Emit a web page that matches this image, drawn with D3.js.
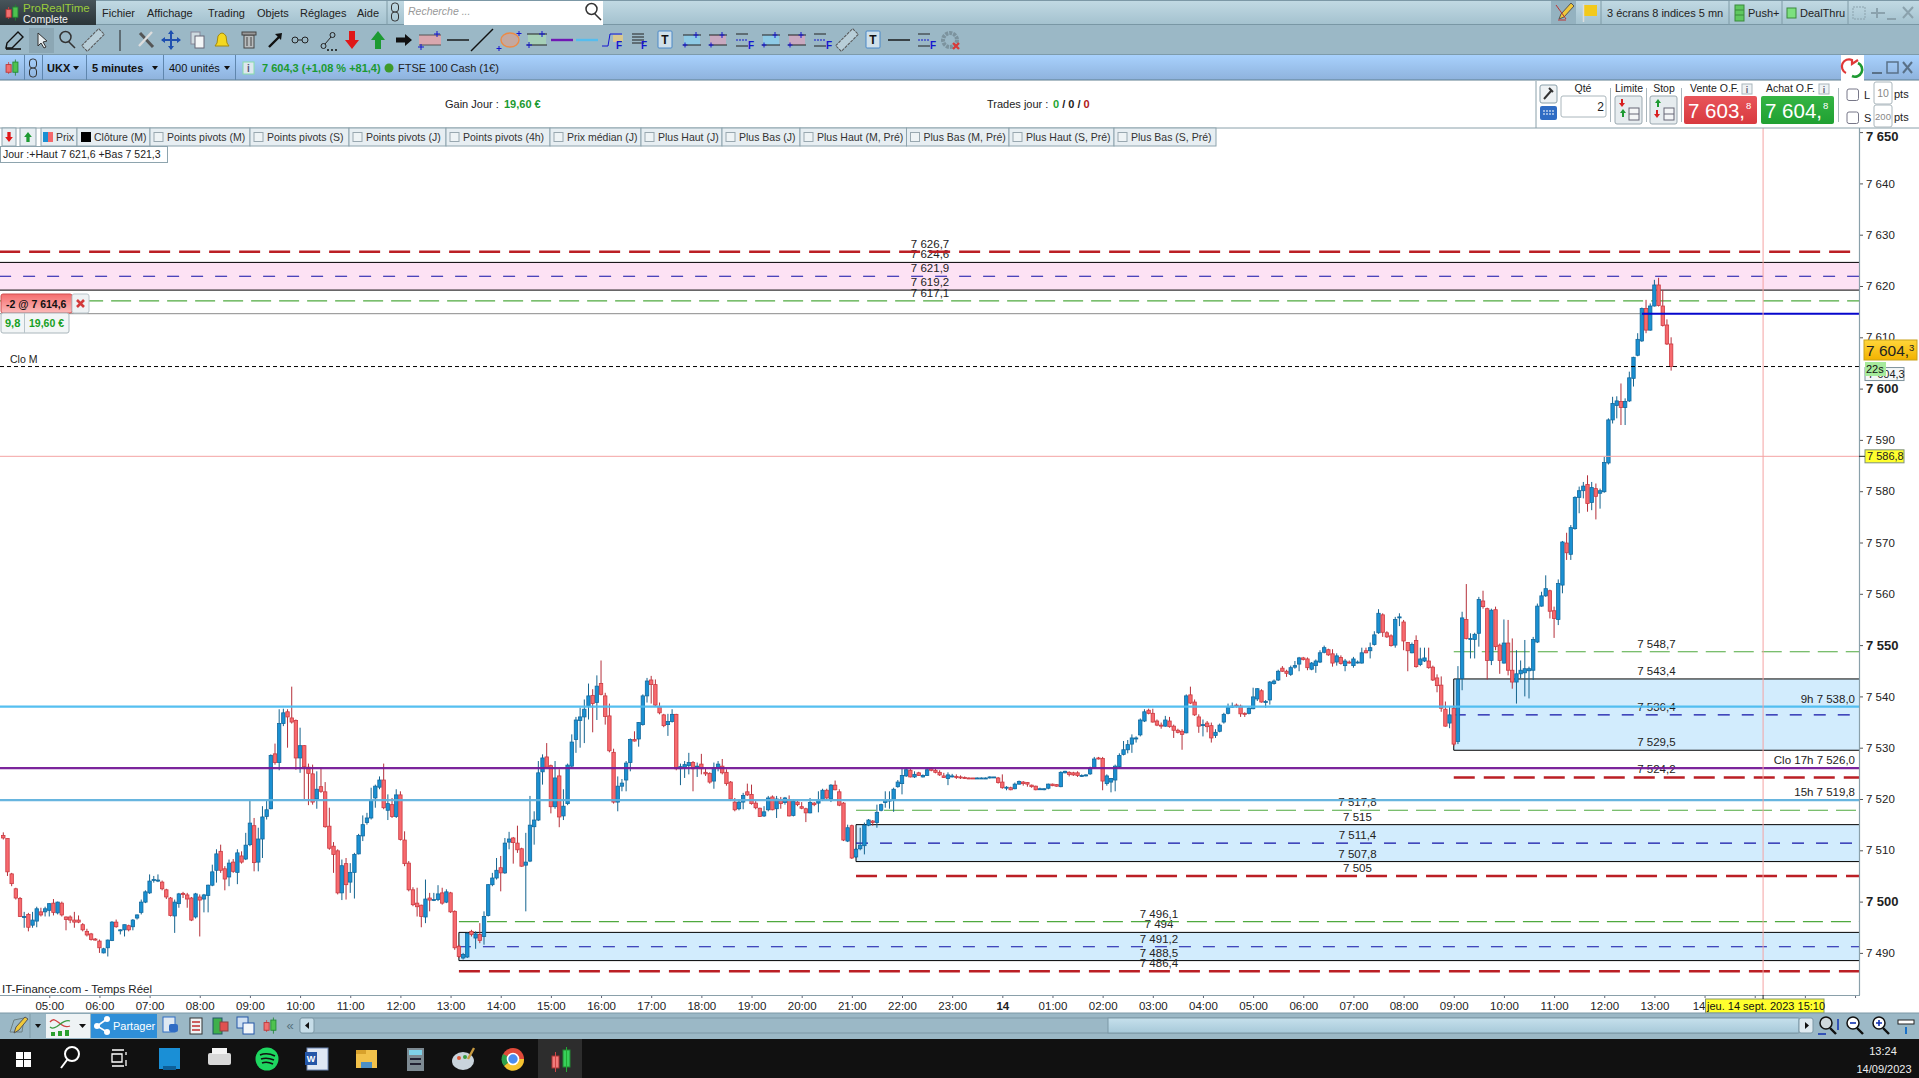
<!DOCTYPE html>
<html>
<head>
<meta charset="utf-8">
<title>UKX 5 minutes</title>
<script src="https://cdn.jsdelivr.net/npm/d3@7"></script>
<style>
  html, body { margin: 0; padding: 0; background: #fff; overflow: hidden; }
  svg { display: block; font-family: "Liberation Sans", Arial, sans-serif; }
</style>
</head>
<body>
<div id="chart"></div>
<script>
// FTSE 100 cash, 400 bars of 5 minutes. Candle values are points above 7 500.
const PRICE_BASE = 7500;

// R = down bar, B = up bar
const barSides =
  'RRRRRBRBBRBB' + 'RBRRRRRRRRRR' + 'BBBRBBRBBBBB' + 'BBRRRBBRRRBR' + 'BBBBRRBRBRBB' +
  'RBBBBRBBRRRB' + 'RRRBRRRRRBRB' + 'BBBBBBBRBRBR' + 'RRRRRBRBBRBR' + 'RRBBRBRBBBBR' +
  'BBRRRBBBBBRR' + 'BRBBBBBBBRBR' + 'RRRBBBBRBBBR' + 'RRRBBRBBBRBR' + 'RRBBRRRRBBRR' +
  'RRBBRBRBRBRR' + 'RBRBBRBRRRBR' + 'BBBBRBBBBBBB' + 'BRBRBBRRRRBB' + 'RRRRRBBBBBRR' +
  'BRBBRRRRBBBR' + 'RBBRRRBBBBRR' + 'BBBBBBBBBBRR' + 'RRBRRRRBRRRB' + 'RRBBBBBRRRBB' +
  'BRBBBBRRBBBR' + 'RBBBBRRBRBRB' + 'BBRBBBRRRBBR' + 'RBRBBRRRRRBR' + 'BBRBBBRRBRRB' +
  'RRBBBBBBBBRR' + 'BBRBBBBRBRBB' + 'BBBRBBBBBRBB' + 'RRRR';

const bodyTops = [
  12.9,12.3,5.4,2.5,.6,-2.9,-2.5,-3.6,-1.4,-2.0,-1.4,-.4,
  -.3,-.1,-.3,-3.0,-3.0,-3.6,-3.6,-4.5,-5.8,-6.3,-7.3,-7.7,
  -9.2,-7.5,-4.0,-4.0,-5.5,-4.5,-4.7,-3.6,-2.6,-.1,1.9,4.0,
  4.3,4.2,3.8,2.3,.7,-.1,1.5,1.6,1.3,.7,1.5,.9,
  1.3,3.2,5.8,9.3,9.8,6.4,7.5,7.7,9.5,8.9,11.0,15.3,
  14.8,12.2,16.5,17.9,28.5,28.8,34.7,36.8,37.0,35.8,35.3,30.4,
  30.4,26.2,24.9,21.9,22.4,21.4,14.7,10.8,9.9,7.0,7.4,5.7,
  9.2,12.9,15.0,16.3,19.7,22.5,23.7,23.7,19.1,18.9,20.8,20.8,
  12.0,7.5,2.3,-.3,-.7,.5,.7,.4,1.5,1.7,1.9,1.7,
  -1.9,-8.7,-10.3,-6.2,-5.8,-6.3,-6.4,-2.9,3.3,4.6,6.1,6.6,
  11.4,12.2,12.4,11.4,10.3,7.7,14.9,15.9,25.1,28.0,28.2,26.5,
  24.1,24.5,18.6,26.6,31.1,35.4,36.0,37.5,40.1,40.2,42.0,42.5,
  40.1,36.2,29.1,22.5,23.1,27.0,31.6,31.6,34.9,40.1,43.0,43.2,
  42.3,38.0,36.4,35.1,36.5,36.5,26.3,26.7,27.1,27.1,26.4,26.8,
  25.2,25.0,26.1,26.8,26.4,25.2,23.3,19.4,19.4,20.7,21.4,20.9,
  19.2,18.2,17.5,20.2,20.4,20.0,19.9,20.2,19.9,19.6,19.4,18.5,
  18.1,19.3,19.2,19.8,21.7,21.7,22.7,22.7,21.4,19.2,14.4,14.8,
  10.2,11.0,14.9,15.9,15.7,17.4,18.9,19.7,19.8,21.9,23.3,24.6,
  25.7,25.6,24.8,25.1,24.6,25.7,25.9,25.6,25.2,24.5,24.7,24.5,
  24.4,24.3,24.2,24.1,24.1,24.1,24.1,24.1,24.3,24.3,24.1,23.3,
  22.3,22.2,22.9,23.4,23.3,23.2,22.7,22.5,22.0,22.0,22.9,22.9,
  22.8,25.2,25.4,25.2,25.1,25.1,24.6,24.7,26.0,27.8,28.0,27.9,
  24.5,24.0,26.4,28.5,29.6,30.6,31.9,31.9,35.4,37.0,37.3,36.7,
  35.2,34.4,35.4,35.2,34.2,33.4,33.2,40.1,40.3,38.9,36.0,34.5,
  34.8,34.3,33.0,34.4,36.5,37.8,38.1,38.3,38.1,36.7,37.7,39.9,
  41.5,41.1,39.0,42.8,43.0,44.9,45.5,44.9,45.6,46.0,47.5,47.5,
  47.3,46.5,46.9,48.5,49.5,49.1,48.3,47.9,47.6,46.9,46.7,47.3,
  46.7,48.5,48.9,49.5,52.0,56.2,55.9,52.4,51.8,55.0,55.5,54.5,
  50.5,50.1,50.9,47.3,47.5,46.9,45.7,43.6,42.2,37.5,36.4,37.7,
  43.3,55.3,55.0,51.3,52.1,58.9,58.6,57.1,56.8,56.9,50.0,50.4,
  50.4,45.1,44.4,45.1,45.4,45.4,51.1,57.6,59.6,61.0,60.6,56.7,
  62.0,70.1,69.9,72.9,78.8,80.1,81.0,81.3,80.7,80.5,80.1,85.6,
  93.9,97.1,97.6,97.5,97.5,102.1,106.1,109.6,115.6,115.6,116.1,120.2,
  120.2,116.1,112.4,108.7
];

const bodyBottoms = [
  12.4,5.8,3.5,.7,-2.9,-3.0,-5.0,-4.6,-3.8,-2.6,-2.0,-1.7,
  -2.1,-2.2,-2.6,-3.5,-3.6,-4.0,-4.0,-5.5,-6.5,-7.4,-7.5,-9.0,
  -10.0,-9.0,-7.6,-4.9,-5.7,-5.5,-5.5,-4.9,-3.2,-2.1,-.1,1.7,
  4.2,4.0,2.5,.9,-2.7,-2.8,-.4,1.4,.5,-3.6,-3.0,.3,
  .5,1.2,3.2,6.1,6.1,4.4,4.8,5.9,5.7,7.7,8.3,11.1,
  7.6,7.7,12.2,16.6,18.1,27.1,27.1,34.7,36.0,35.0,28.0,28.0,
  26.3,25.0,19.4,20.0,21.5,14.6,10.4,9.2,1.7,1.7,3.3,3.8,
  5.7,9.3,12.8,15.4,16.3,20.2,22.3,18.3,17.8,16.6,16.6,12.1,
  7.4,2.3,-.6,-1.0,-2.9,-3.0,.3,.3,.4,-.3,-.1,-2.0,
  -9.0,-10.7,-11.0,-10.8,-6.4,-7.1,-7.6,-6.8,-2.7,3.3,4.6,5.6,
  5.6,11.6,11.5,10.1,6.9,7.1,7.9,14.6,15.9,25.3,26.2,18.5,
  18.5,16.5,16.7,19.1,26.4,31.6,35.3,36.0,38.2,38.6,38.8,40.4,
  36.1,29.4,19.4,19.4,22.5,23.7,27.1,31.3,31.7,34.5,40.1,42.3,
  38.3,36.8,34.3,34.5,35.1,25.9,25.9,26.1,26.5,25.9,26.2,25.9,
  24.9,23.3,23.5,26.1,25.1,23.0,20.0,17.9,18.1,19.4,20.8,19.1,
  18.3,16.6,16.7,17.9,17.9,18.1,19.1,19.3,16.7,16.8,18.9,18.2,
  17.3,17.3,18.9,19.2,19.9,20.2,20.0,21.8,18.8,12.0,11.8,8.5,
  8.7,10.3,10.9,14.9,15.4,15.4,17.8,19.3,19.6,19.8,22.4,23.0,
  24.5,24.3,24.3,24.6,24.3,24.6,25.6,25.2,24.7,24.2,24.0,24.4,
  24.2,24.1,24.0,24.0,24.0,24.0,24.0,23.9,24.1,24.2,23.2,22.2,
  22.2,21.8,22.0,22.9,23.0,22.9,22.4,21.8,21.9,21.9,22.1,22.6,
  22.5,22.4,25.1,24.8,24.7,24.6,24.5,24.5,24.9,26.1,27.8,23.5,
  23.0,23.3,23.7,26.3,28.7,29.6,30.7,31.7,32.5,35.2,36.7,35.0,
  34.4,34.2,34.2,34.1,33.4,33.0,32.6,32.9,38.7,36.4,34.2,34.3,
  34.1,31.9,32.4,33.2,35.0,36.7,38.0,38.1,36.6,36.5,36.7,37.6,
  39.5,38.9,38.8,39.3,42.5,43.2,44.9,44.5,44.3,45.7,46.3,47.2,
  45.6,45.3,46.0,46.7,48.6,48.1,46.5,46.7,46.4,46.0,46.5,46.0,
  46.6,46.5,48.5,48.9,50.1,52.4,52.5,51.6,49.9,50.0,55.4,50.8,
  48.9,48.5,45.8,46.2,46.9,45.6,43.2,42.1,37.7,34.2,34.8,30.7,
  31.2,43.5,51.3,51.1,51.1,52.3,57.5,47.0,47.0,49.7,47.0,46.5,
  45.1,42.8,42.8,44.4,44.6,45.0,45.1,50.6,57.6,59.6,56.6,55.2,
  55.0,61.7,68.0,67.7,72.7,78.8,80.1,77.6,77.8,79.0,79.6,79.9,
  85.5,93.9,96.7,96.3,96.3,97.6,102.0,106.5,109.3,111.4,111.4,116.1,
  116.2,112.3,108.7,104.3
];

const highs = [
  13.5,12.3,5.6,2.7,.9,-2.0,-2.2,-2.0,-1.0,-1.2,-1.0,-.3,
  .5,0,0,-2.9,-2.7,-2.0,-2.7,-4.2,-5.3,-6.1,-7.1,-7.4,
  -9.0,-7.4,-3.8,-3.5,-5.4,-4.5,-4.5,-3.4,-2.5,.4,2.2,5.3,
  5.0,5.3,4.1,2.5,.9,.4,1.7,1.9,1.7,.9,1.7,1.4,
  1.5,3.3,7.2,10.2,11.1,6.9,8.2,8.3,10.2,9.8,13.4,19.7,
  16.3,14.4,18.6,19.6,28.7,30.8,37.5,37.6,37.5,41.9,35.5,33.9,
  30.5,26.9,26.7,25.4,26.1,23.3,18.3,11.6,10.2,8.2,8.5,7.5,
  9.5,13.2,16.8,17.3,22.2,22.8,24.4,26.9,20.9,20.2,21.9,21.5,
  13.7,7.9,2.8,2.7,-.6,4.3,1.7,1.7,3.2,2.7,2.4,1.9,
  -1.7,-8.4,-10.0,-6.0,-5.5,-5.8,-4.2,-1.9,3.4,5.6,8.5,8.9,
  12.4,13.6,12.6,14.8,10.5,13.4,20.6,17.6,27.4,28.7,30.9,26.7,
  27.4,25.8,21.9,26.9,32.6,36.0,37.8,39.4,42.5,41.4,44.1,47.0,
  40.7,38.6,29.8,24.4,23.9,27.4,31.8,33.2,35.0,40.4,43.6,44.0,
  43.3,38.8,36.6,36.6,37.5,36.6,26.9,27.4,29.0,27.4,27.1,28.8,
  26.1,25.2,27.1,27.4,27.8,25.8,23.5,20.2,19.9,21.2,23.0,22.8,
  19.6,18.3,18.6,20.6,20.7,20.6,20.4,20.4,20.7,19.9,19.6,19.4,
  18.3,20.2,19.4,21.5,22.0,22.0,22.9,23.6,21.9,19.4,15.0,15.0,
  10.5,14.4,15.4,16.1,15.9,18.9,19.1,21.5,21.5,22.2,23.7,26.0,
  26.1,26.0,25.4,25.3,24.8,26.0,26.2,25.9,25.6,25.1,25.2,24.9,
  24.8,24.6,24.4,24.2,24.1,24.2,24.2,24.2,24.4,24.3,24.3,24.8,
  22.5,22.4,23.2,23.6,23.5,23.3,22.8,22.6,22.2,22.1,23.0,23.0,
  22.9,25.4,25.5,25.4,25.3,25.4,24.8,24.8,26.3,28.2,28.2,28.2,
  24.8,24.1,26.7,28.9,31.3,31.5,32.6,32.2,35.7,37.5,37.6,37.6,
  35.5,34.9,36.2,36.0,34.5,33.7,33.6,40.4,41.9,39.4,36.5,35.5,
  35.2,34.9,33.6,34.7,36.8,38.6,38.8,38.6,38.4,36.9,37.9,41.7,
  41.6,41.4,39.3,43.0,43.3,45.2,45.9,45.2,46.0,46.9,47.7,47.7,
  47.6,46.7,47.2,49.0,49.9,49.3,49.2,48.4,48.0,47.3,47.0,47.7,
  47.0,49.5,49.5,50.5,52.7,57.0,56.2,52.7,52.1,55.5,56.2,54.9,
  50.6,50.5,51.9,49.5,49.5,49.5,46.0,44.3,43.9,39.0,38.0,38.3,
  45.9,56.5,61.9,52.3,52.4,59.4,60.6,57.3,57.1,57.5,50.3,55.0,
  54.9,51.3,49.0,47.0,51.0,45.8,51.6,58.1,60.4,63.6,60.8,57.5,
  62.8,70.3,71.9,73.4,79.0,80.9,81.8,83.1,81.8,81.5,80.5,86.7,
  94.2,98.4,98.5,101.0,98.1,103.3,106.2,110.8,115.8,117.3,116.6,121.2,
  121.6,119.2,113.5,110.0
];

const lows = [
  12.1,5.0,3.0,.4,-3.0,-5.1,-5.8,-5.1,-5.0,-2.9,-2.9,-2.9,
  -2.7,-2.5,-2.9,-5.6,-4.2,-5.1,-4.2,-5.8,-6.8,-7.6,-7.6,-10.0,
  -10.1,-10.7,-7.7,-5.1,-6.4,-6.8,-5.8,-5.6,-3.5,-2.5,-.3,1.5,
  3.7,3.8,2.2,.5,-2.9,-6.1,-1.2,.7,-1.2,-3.8,-3.3,-6.8,
  -2.1,-2.1,3.0,3.7,5.6,2.2,3.0,5.6,3.4,7.4,8.1,10.8,
  5.9,5.9,8.5,16.0,18.0,26.7,25.6,34.2,30.0,34.7,25.7,25.1,
  20.0,18.8,18.9,18.1,21.2,14.4,10.1,5.6,1.4,.3,.4,1.7,
  .6,9.2,11.8,15.0,16.0,18.3,21.9,18.0,15.9,16.3,16.3,11.9,
  6.9,2.0,-.9,-2.9,-5.0,-4.2,-1.9,.1,.1,-.6,-.3,-2.2,
  -9.4,-11.0,-11.3,-11.0,-6.8,-9.2,-8.1,-8.4,-2.9,3.0,4.3,2.0,
  5.4,10.2,7.4,9.5,6.8,-1.9,7.7,11.1,15.7,22.8,26.1,17.2,
  18.1,14.5,15.9,18.8,26.2,29.0,30.0,30.9,35.5,33.0,35.4,40.2,
  34.5,29.1,19.1,17.6,21.5,21.5,25.4,31.2,30.2,34.3,38.8,38.6,
  38.1,36.5,34.0,32.3,34.9,25.6,22.7,24.1,24.8,21.5,24.3,24.8,
  24.5,23.0,22.0,25.4,24.8,22.6,19.6,17.6,17.8,18.0,20.6,18.9,
  18.0,16.5,16.5,17.6,17.8,16.3,18.1,18.9,16.6,16.6,18.6,18.0,
  15.5,17.2,18.6,17.4,19.6,19.9,19.4,21.7,18.6,11.8,11.6,8.3,
  8.5,10.0,9.2,14.7,14.8,14.4,17.6,18.3,18.1,17.5,22.2,20.9,
  24.3,24.2,24.1,24.5,24.2,24.5,25.4,25.0,24.5,24.1,22.7,24.2,
  23.9,23.9,23.9,23.9,23.9,23.9,23.9,23.9,24.0,24.1,23.0,22.0,
  21.7,21.7,21.9,22.8,22.6,22.4,22.2,21.7,21.8,21.7,21.9,22.5,
  22.4,22.3,25.0,24.4,24.5,24.3,24.3,24.4,24.7,25.9,27.7,21.7,
  22.6,21.3,21.5,26.1,28.5,28.9,29.0,31.0,32.2,35.0,36.5,34.9,
  34.2,33.7,34.1,33.9,31.9,32.8,29.6,32.8,38.5,36.2,32.9,32.2,
  33.0,31.0,31.9,33.0,34.7,36.5,37.8,37.8,36.0,36.0,36.5,37.5,
  39.1,38.8,37.8,38.4,42.3,43.0,44.8,43.8,44.0,45.4,44.9,47.0,
  45.1,45.1,44.6,46.5,48.4,47.9,45.8,46.0,46.2,44.9,46.4,45.6,
  46.4,46.4,48.4,47.4,49.9,52.2,51.6,51.4,49.7,49.5,53.7,49.0,
  44.9,48.4,45.6,45.9,46.7,45.4,43.0,40.8,37.0,34.1,33.8,30.3,
  30.7,41.2,51.1,47.4,47.4,49.7,57.1,43.3,46.1,49.0,44.4,46.4,
  44.1,41.5,38.6,43.5,40.0,39.6,43.2,50.4,57.5,59.4,55.2,51.4,
  53.9,60.1,66.6,66.6,72.5,75.7,78.6,76.0,76.3,74.5,76.6,79.7,
  85.2,93.2,94.2,92.9,92.9,97.4,100.4,106.3,109.1,110.8,111.3,116.0,
  116.0,112.1,108.5,103.5
];

// Drawn zones: first one is the pink one, the others blue
const zoneStartBars = [-1, 347, 204, 109];
const zoneTops = [7624.6, 7543.4, 7515, 7494];
const zoneBottoms = [7619.2, 7529.5, 7507.8, 7488.5];
const zoneMiddles = [7621.9, 7536.4, 7511.4, 7491.2];
const zoneGreens = [7617.1, 7548.7, 7517.8, 7496.1];
const zoneReds = [7626.7, 7524.2, 7505, 7486.4];

// Named horizontal levels on the right
const levelPrices = [7538.0, 7526.0, 7519.8];
const levelNames = ['9h', 'Clo 17h', '15h'];

const lastPrice = 7604.3;
const positionPrice = 7614.6;
const positionStartBar = 392;
const crossPrice = 7586.8;
const crossBar = 421;

const priceTicks = d3.range(7490, 7651, 10);
const hourBars = d3.range(11, 408, 12).concat([419, 431, 443]);
const hourLabels = ['05:00','06:00','07:00','08:00','09:00','10:00','11:00','12:00','13:00','14:00',
  '15:00','16:00','17:00','18:00','19:00','20:00','21:00','22:00','23:00','14','01:00','02:00','03:00',
  '04:00','05:00','06:00','07:00','08:00','09:00','10:00','11:00','12:00','13:00','14','','',''];

const tabLabels = ['Prix','Clôture (M)','Points pivots (M)','Points pivots (S)','Points pivots (J)','Points pivots (4h)',
  'Prix médian (J)','Plus Haut (J)','Plus Bas (J)','Plus Haut (M, Pré)','Plus Bas (M, Pré)','Plus Haut (S, Pré)','Plus Bas (S, Pré)'];
const tabEdges = [41, 77, 150, 250, 349, 446, 550, 641, 722, 800, 906.5, 1009, 1114, 1216];

const W = 1919, H = 1078;
const axisX = 1859, axisY = 995, chartTop = 128;

const fr = d3.formatLocale({ decimal: ',', thousands: ' ', grouping: [3], currency: ['', ' €'] });
const fmtInt = fr.format(',d');
const fmtTrim = fr.format(',.1~f');
const fmtOne = fr.format(',.1f');

const barX = d3.scaleLinear().domain([0, 399]).range([3.3, 3.3 + 4.18 * 399]);
const priceY = d3.scaleLinear().domain([7490, 7650]).range([952.9, 132.1]);

const svg = d3.select('#chart').append('svg').attr('width', W).attr('height', H);
const defs = svg.append('defs');

function gradient(id, top, bottom) {
  const g = defs.append('linearGradient').attr('id', id).attr('x1', 0).attr('x2', 0).attr('y1', 0).attr('y2', 1);
  g.append('stop').attr('offset', 0).attr('stop-color', top);
  g.append('stop').attr('offset', 1).attr('stop-color', bottom);
}
gradient('menuGrad', '#c2dae4', '#a3c1ce');
gradient('blueGrad', '#a8d1fd', '#8eb2dc');
gradient('logoGrad', '#47545a', '#2a3438');
gradient('redBox', '#e8555a', '#d8393f');
gradient('greenBox', '#35b544', '#1fa032');
gradient('posGrad', '#f56d6d', '#fbb9b9');
gradient('tagGrad', '#ffd63a', '#f2b200');
gradient('thumbGrad', '#c6e0ec', '#a7c9d9');

defs.append('clipPath').attr('id', 'plotClip').append('rect')
  .attr('x', 0).attr('y', chartTop).attr('width', axisX).attr('height', axisY - chartTop);

function rect(p, x, y, w, h, fill, stroke, rx) {
  return p.append('rect').attr('x', x).attr('y', y).attr('width', w).attr('height', h)
    .attr('fill', fill || 'none').attr('stroke', stroke || 'none').attr('rx', rx || 0);
}
function line(p, x1, y1, x2, y2, stroke, width, dash) {
  return p.append('line').attr('x1', x1).attr('y1', y1).attr('x2', x2).attr('y2', y2)
    .attr('stroke', stroke).attr('stroke-width', width || 1).attr('stroke-dasharray', dash || null);
}
function text(p, x, y, str, size, fill, opts) {
  opts = opts || {};
  return p.append('text').attr('x', x).attr('y', y).text(str)
    .attr('font-size', size).attr('fill', fill || '#222')
    .attr('font-weight', opts.bold ? 'bold' : null)
    .attr('font-style', opts.italic ? 'italic' : null)
    .attr('text-anchor', opts.anchor || 'start');
}
function path(p, d, fill, stroke, width) {
  return p.append('path').attr('d', d).attr('fill', fill || 'none')
    .attr('stroke', stroke || 'none').attr('stroke-width', width || 1);
}

// ---- plot area ----
const plot = svg.append('g').attr('clip-path', 'url(#plotClip)');

// zone fills and edges
zoneTops.forEach((top, i) => {
  const x0 = barX(zoneStartBars[i]);
  const y0 = priceY(top), y1 = priceY(zoneBottoms[i]);
  rect(plot, x0, y0, axisX - x0, y1 - y0, i === 0 ? '#fde2f4' : '#d2ecfd', null);
  line(plot, x0, y0, axisX, y0, '#000', 1);
  line(plot, x0, y1, axisX, y1, '#000', 1);
  if (i > 0) line(plot, x0, y0, x0, y1, '#000', 1);
});

// price labels of the zones, behind the lines
zoneTops.forEach((top, i) => {
  const mid = (barX(zoneStartBars[i]) + axisX) / 2 + (i === 0 ? 1 : 0);
  [zoneReds[i], top, zoneMiddles[i], zoneBottoms[i], zoneGreens[i]].forEach(v => {
    text(plot, mid, priceY(v) - 4, fmtTrim(v), 11.5, '#222', { anchor: 'middle' });
  });
});

// zone dashed lines
zoneTops.forEach((top, i) => {
  const x0 = barX(zoneStartBars[i]);
  line(plot, x0, priceY(zoneReds[i]), axisX, priceY(zoneReds[i]), '#bb1f25', 2.5, '21 9');
  line(plot, x0, priceY(zoneMiddles[i]), axisX, priceY(zoneMiddles[i]), '#1212a6', 1.2, '12 12');
  line(plot, x0, priceY(zoneGreens[i]), axisX, priceY(zoneGreens[i]), '#4fa93f', 1.1, '20 8');
});

// position line
line(plot, 0, priceY(positionPrice), barX(positionStartBar), priceY(positionPrice), '#8a8a8a', 1);

// candles
const bars = plot.append('g').selectAll('g').data(d3.range(barSides.length)).join('g');
bars.append('line')
  .attr('x1', i => barX(i)).attr('x2', i => barX(i))
  .attr('y1', i => priceY(PRICE_BASE + highs[i])).attr('y2', i => priceY(PRICE_BASE + lows[i]))
  .attr('stroke', i => barSides[i] === 'R' ? '#b5303a' : '#15648f').attr('stroke-width', 1);
bars.append('rect')
  .attr('x', i => barX(i) - 1.7).attr('width', 3.4)
  .attr('y', i => priceY(PRICE_BASE + bodyTops[i]))
  .attr('height', i => Math.max(1, priceY(PRICE_BASE + bodyBottoms[i]) - priceY(PRICE_BASE + bodyTops[i])))
  .attr('fill', i => barSides[i] === 'R' ? '#f76a6e' : '#1a90d2')
  .attr('stroke', i => barSides[i] === 'R' ? '#cc3a42' : '#11699e').attr('stroke-width', .8);

// named levels over the candles
const levelColors = ['#4cbcf0', '#761a97', '#5fb2de'];
levelPrices.forEach((v, i) => {
  line(plot, 0, priceY(v), axisX, priceY(v), levelColors[i], 2.3).attr('opacity', .95);
  text(plot, 1855, priceY(v) - 4, levelNames[i] + ' ' + fmtOne(v), 11.5, '#222', { anchor: 'end' });
});

line(plot, barX(positionStartBar), priceY(positionPrice), axisX, priceY(positionPrice), '#0606cc', 2);
line(plot, 0, priceY(lastPrice), axisX, priceY(lastPrice), '#000', 1, '4 3');
text(plot, 10, priceY(lastPrice) - 4, 'Clo M', 10.5, '#222');
line(plot, 0, priceY(crossPrice), axisX, priceY(crossPrice), '#f4a3a3', 1);
line(plot, barX(crossBar), chartTop, barX(crossBar), axisY, '#f4a3a3', 1);

text(svg, 2, 993, 'IT-Finance.com - Temps Réel', 11.5, '#222');

// ---- axes ----
const yAxis = svg.append('g').attr('transform', `translate(${axisX},0)`)
  .call(d3.axisRight(priceY).tickValues(priceTicks).tickSize(4).tickPadding(3).tickFormat(fmtInt));
yAxis.select('.domain').remove();
yAxis.selectAll('line').attr('stroke', '#555');
yAxis.selectAll('text')
  .attr('font-family', '"Liberation Sans", Arial, sans-serif')
  .attr('fill', '#222')
  .attr('font-size', d => d % 50 === 0 ? 13 : 11.5)
  .attr('font-weight', d => d % 50 === 0 ? 'bold' : null)
  .attr('dy', d => d === 7650 ? '.62em' : '.32em');
line(svg, axisX + .5, chartTop, axisX + .5, axisY, '#8aa0aa', 1.2);

const xAxis = svg.append('g').attr('transform', `translate(0,${axisY})`)
  .call(d3.axisBottom(barX).tickValues(hourBars).tickSize(3).tickPadding(4)
    .tickFormat((d, i) => hourLabels[i]));
xAxis.select('.domain').remove();
xAxis.selectAll('line').attr('stroke', '#667');
xAxis.selectAll('text')
  .attr('font-family', '"Liberation Sans", Arial, sans-serif')
  .attr('fill', '#222')
  .attr('font-size', 11.5)
  .attr('font-weight', (d, i) => hourLabels[i] === '14' && i < 30 ? 'bold' : null)
  // the second day label sits just left of the date tag
  .attr('dx', (d, i) => i === 33 ? -6 : 0);
line(svg, 0, axisY + .5, axisX + 1, axisY + .5, '#8aa0aa', 1.2);

// price tags
const tagX = 1864;
rect(svg, tagX + 1, priceY(lastPrice) + 1, 39, 13, '#f4f7f8', '#7e929c');
text(svg, tagX + 4, priceY(lastPrice) + 11, fmtOne(lastPrice), 11, '#222');
rect(svg, tagX + 1, 362, 21, 14, '#a6ea9c');
text(svg, tagX + 2, 373, '22s', 11, '#111');
rect(svg, tagX, 340, 53, 20, 'url(#tagGrad)', '#c9a21a');
const lastParts = fmtOne(lastPrice).split(',');
const lastTag = text(svg, tagX + 2, 356, lastParts[0] + ',', 15.5, '#222');
lastTag.append('tspan').attr('font-size', 9.5).attr('dy', -5).text(lastParts[1]);
rect(svg, tagX + 1, priceY(crossPrice) - 6.5, 39, 13, '#ffff2e', '#7e927e');
text(svg, tagX + 3, priceY(crossPrice) + 4, fmtOne(crossPrice), 11, '#222');
line(svg, axisX, priceY(crossPrice), tagX + 1, priceY(crossPrice), '#222', 1);

rect(svg, 1705.5, 999, 118.5, 14, '#ffff2e', '#8a9a6a');
text(svg, 1707, 1010, 'jeu. 14 sept. 2023 15:10', 11, '#111');
line(svg, barX(crossBar), axisY, barX(crossBar), 999, '#222', 1);

// open position tag
rect(svg, 1, 294, 71, 19, 'url(#posGrad)', '#d05050', 2);
text(svg, 6, 307.5, '-2 @ ' + fmtOne(positionPrice), 10.5, '#111', { bold: true });
rect(svg, 72, 294, 17, 19, '#eef2f4', '#b8c4ca', 2);
path(svg, 'M77 300 L84 307 M84 300 L77 307', null, '#d23a3a', 2.6);
rect(svg, 1, 313, 68, 20, '#f2f5f6', '#aab6bc', 2);
line(svg, 24.5, 313, 24.5, 333, '#b8c4ca');
text(svg, 5, 327, '9,8', 11, '#17a024', { bold: true });
text(svg, 29, 327, '19,60 €', 10.5, '#17a024', { bold: true });

// ---- window chrome, drawn after the plot ----
function icon(p, x, y, kind) {
  const g = p.append('g').attr('transform', `translate(${x},${y})`);
  switch (kind) {
    case 'pencil':
      path(g, 'M-9 8 L-8 3 L3 -8 L8 -3 L-3 8 Z', null, '#111', 1.4); line(g, -9, 9, 6, 9, '#111', 1.6); break;
    case 'cursor':
      rect(g, -12, -12, 25, 25, '#8ca7b4'); path(g, 'M-3 -7 L-3 6 L0 3 L3 8 L5 7 L2 2 L6 1 Z', '#e8eef0', '#333'); break;
    case 'lens':
      path(g, 'M-7 -3 a5.5 5.5 0 1 0 11 0 a5.5 5.5 0 1 0 -11 0 M2 2 L8 8', null, '#333', 1.5); break;
    case 'ruler':
      g.append('rect').attr('x', -12).attr('y', -4).attr('width', 24).attr('height', 8)
        .attr('fill', '#b8ced8').attr('stroke', '#555').attr('stroke-dasharray', '3 1').attr('transform', 'rotate(-45)'); break;
    case 'tools':
      path(g, 'M-6 -7 L7 7', null, '#555', 3); path(g, 'M6 -8 L-7 6', null, '#ddd', 2.4); break;
    case 'move':
      path(g, 'M-9 0 L9 0 M0 -9 L0 9', null, '#2050b0', 2);
      path(g, 'M-10 0 L-6 -3 L-6 3 Z M10 0 L6 -3 L6 3 Z M0 -10 L-3 -6 L3 -6 Z M0 10 L-3 6 L3 6 Z', '#1d4fb0'); break;
    case 'copy':
      rect(g, -6, -8, 9, 12, '#cfdbe0', '#889'); rect(g, -2, -4, 9, 12, '#f3f6f7', '#667'); break;
    case 'bell':
      path(g, 'M-7 6 L7 6 L5 3 L4 -4 Q0 -10 -4 -4 L-5 3 Z', '#f4d820', '#a48a10'); break;
    case 'trash':
      rect(g, -5, -5, 10, 13, '#b8bcbd', '#444'); rect(g, -7, -8, 14, 3, '#999', '#444');
      path(g, 'M-2 -3 L-2 6 M2 -3 L2 6', null, '#444'); break;
    case 'arrowNE':
      path(g, 'M-6 7 L5 -4', null, '#111', 2.4); path(g, 'M7 -7 L0 -6 L6 0 Z', '#111'); break;
    case 'link':
      path(g, 'M-8 0 a3 3 0 1 0 6 0 a3 3 0 1 0 -6 0 M2 0 a3 3 0 1 0 6 0 a3 3 0 1 0 -6 0 M-2 0 L2 0', null, '#222'); break;
    case 'nodes':
      path(g, 'M-7 6 a2.5 2.5 0 1 0 5 0 a2.5 2.5 0 1 0 -5 0 M2 -5 a2.5 2.5 0 1 0 5 0 a2.5 2.5 0 1 0 -5 0 M-3 4 L3 -3', null, '#222');
      line(g, -1, 10, 9, 10, '#111', 1.5, '2 2'); break;
    case 'down': path(g, 'M-3 -9 L3 -9 L3 0 L7 0 L0 9 L-7 0 L-3 0 Z', '#e01818'); break;
    case 'up': path(g, 'M-3 9 L3 9 L3 0 L7 0 L0 -9 L-7 0 L-3 0 Z', '#1d9a32'); break;
    case 'right': path(g, 'M-8 -2.5 L1 -2.5 L1 -6 L8 0 L1 6 L1 2.5 L-8 2.5 Z', '#111'); break;
    case 'box':
      rect(g, -11, -5, 22, 10, '#d9a7ae'); line(g, -11, -5, 11, -5, '#555'); line(g, -11, 5, 11, 5, '#555');
      path(g, 'M7 -9 L7 -3 M4 -6 L10 -6 M-9 4 L-9 10 M-12 7 L-6 7', null, '#1515d0'); break;
    case 'hline': line(g, -11, 0, 11, 0, '#111', 1.4); break;
    case 'diag': line(g, -11, 11, 11, -11, '#111', 1.4); break;
    case 'ellipse':
      g.append('ellipse').attr('rx', 9).attr('ry', 7).attr('fill', '#c4a9a0').attr('stroke', '#ee8a44').attr('stroke-width', 1.4);
      path(g, 'M9 -9 L9 -4 M6.5 -6.5 L11.5 -6.5 M-11 6 L-11 11 M-13.5 8.5 L-8.5 8.5', null, '#1515d0'); break;
    case 'boxGreen':
      rect(g, -9, -6, 18, 11, '#a6d0b8'); line(g, -10, -6, 10, -6, '#222'); line(g, -10, 5, 10, 5, '#222');
      path(g, 'M5 -9 L5 -3 M2 -6 L8 -6 M-8 2 L-8 8 M-11 5 L-5 5', null, '#1515d0'); break;
    case 'boxBlue':
      rect(g, -8, -5, 16, 10, '#8ecbe6'); line(g, -9, -5, 9, -5, '#222'); line(g, -9, 5, 9, 5, '#222');
      path(g, 'M4 -8 L4 -2 M1.5 -5 L6.5 -5 M-7 2.5 L-7 7.5 M-9.5 5 L-4.5 5', null, '#1515d0'); break;
    case 'boxPink':
      rect(g, -8, -5, 16, 10, '#c8a9c0'); line(g, -9, -5, 9, -5, '#222'); line(g, -9, 5, 9, 5, '#222');
      path(g, 'M4 -8 L4 -2 M1.5 -5 L6.5 -5 M-7 2.5 L-7 7.5 M-9.5 5 L-4.5 5', null, '#1515d0'); break;
    case 'purple': line(g, -11, 0, 11, 0, '#7018b4', 2.4); break;
    case 'cyan': line(g, -11, 0, 11, 0, '#55bdee', 2.4); break;
    case 'fib':
      path(g, 'M-10 6 L-4 6 L-2 -6 L10 -6', null, '#1515d0'); rect(g, 1, -5, 10, 7, '#d8c890');
      text(g, 4, 9, 'F', 10, '#1515d0', { bold: true }); break;
    case 'list':
      path(g, 'M-8 -6 L4 -6 M-8 -3 L4 -3 M-8 0 L4 0 M-8 3 L4 3', null, '#222', 1.1); text(g, 1, 9, 'F', 10, '#1515d0', { bold: true }); break;
    case 'textbox':
      rect(g, -7, -9, 14, 17, '#cfe0ea', '#4a88c8', 1); text(g, 0, 4, 'T', 12, '#111', { bold: true, anchor: 'middle' }); break;
    case 'dashF':
      path(g, 'M-9 -6 L3 -6 M-9 6 L3 6', null, '#222'); line(g, -9, 0, 3, 0, '#1515d0', 1, '2 1');
      text(g, 3, 9, 'F', 10, '#1515d0', { bold: true }); break;
    case 'ring':
      g.append('circle').attr('r', 7).attr('fill', 'none').attr('stroke', '#7c939e').attr('stroke-width', 4).attr('stroke-dasharray', '3 1');
      path(g, 'M3 3 L9 9 M9 3 L3 9', null, '#d83a3a', 2.4); break;
    case 'candles':
      line(g, -4, -7, -4, 7, '#c44'); rect(g, -7, -4, 6, 9, '#f07070', '#b33');
      line(g, 4, -10, 4, 9, '#283'); rect(g, 1, -7, 6, 12, '#4fc24f', '#283'); break;
    case 'chain':
      rect(g, -3.5, -9, 7, 9, null, '#333', 3); rect(g, -3.5, 0, 7, 9, null, '#333', 3); break;
  }
  return g;
}

// menu bar
rect(svg, 0, 0, W, 25, 'url(#menuGrad)');
line(svg, 0, .5, W, .5, '#7c98a6');
line(svg, 0, 25, W, 25, '#4f6c7b', 1);
rect(svg, 0, 0, 96, 25, 'url(#logoGrad)');
icon(svg, 12, 13, 'candles').attr('transform', 'translate(12,13) scale(.85)');
text(svg, 23, 12, 'ProRealTime', 11.5, '#9acb3b', { bold: false });
text(svg, 23, 22.5, 'Complete', 10.5, '#f2f2f2');
[['Fichier', 102], ['Affichage', 147], ['Trading', 208], ['Objets', 257], ['Réglages', 300], ['Aide', 357]]
  .forEach(m => text(svg, m[1], 17, m[0], 11, '#222'));
line(svg, 387, 1, 387, 25, '#7f9aa6');
icon(svg, 395, 12, 'chain');
rect(svg, 404, 1, 199, 24, '#fff');
text(svg, 408, 15, 'Recherche ...', 10.5, '#999', { italic: true });
icon(svg, 593, 12, 'lens');
rect(svg, 1551, 1, 25, 23, '#94b2c0');
path(svg, 'M1559 19 L1561 14 L1571 3 L1574 6 L1564 17 Z', '#f0c83a', '#555');
path(svg, 'M1556 5 L1566 19 M1558 20 L1566 20', null, '#b33');
path(svg, 'M1584 5 L1597 5 L1597 16 L1584 16 Z', '#f2c91c');
line(svg, 1583.5, 4, 1583.5, 22, '#ddd', 1.5);
line(svg, 1601, 1, 1601, 25, '#7f9aa6');
text(svg, 1607, 17, '3 écrans 8 indices 5 mn', 11, '#222');
line(svg, 1729, 1, 1729, 25, '#7f9aa6');
rect(svg, 1735, 5, 9, 16, '#5fc860', '#3b8a3d');
path(svg, 'M1735 10 L1744 10 M1735 15 L1744 15', null, '#3b8a3d');
text(svg, 1748, 17, 'Push+', 11, '#222');
line(svg, 1782, 1, 1782, 25, '#7f9aa6');
rect(svg, 1787, 8, 9, 10, '#7ce07e', '#3b8a3d');
text(svg, 1800, 17, 'DealThru', 11, '#222');
line(svg, 1848, 1, 1848, 25, '#7f9aa6');
rect(svg, 1853, 7, 12, 12, null, '#8ba2ad').attr('stroke-dasharray', '2 1');
path(svg, 'M1871 13 L1885 13 M1877 8 L1877 18', null, '#8ba2ad', 2);
line(svg, 1887, 19, 1896, 19, '#8ba2ad', 2);
path(svg, 'M1903 7 L1913 18 M1913 7 L1903 18', null, '#8ba2ad', 2);

// tool bar
rect(svg, 0, 25, W, 30, '#9bb8c6');
line(svg, 0, 55, W, 55, '#5f7f90', 1);
const toolIcons = [[15, 'pencil'], [41, 'cursor'], [67, 'lens'], [93, 'ruler'], [146, 'tools'], [171, 'move'], [197, 'copy'],
  [222, 'bell'], [249, 'trash'], [275, 'arrowNE'], [300, 'link'], [328, 'nodes'], [352, 'down'], [378, 'up'], [404, 'right'],
  [430, 'box'], [458, 'hline'], [482, 'diag'], [510, 'ellipse'], [537, 'boxGreen'], [562, 'purple'], [587, 'cyan'], [612, 'fib'],
  [640, 'list'], [665, 'textbox'], [692, 'boxBlue'], [718, 'boxPink'], [745, 'dashF'], [771, 'boxBlue'], [797, 'boxPink'],
  [823, 'dashF'], [847, 'ruler'], [873, 'textbox'], [899, 'hline'], [927, 'dashF'], [950, 'ring']];
toolIcons.forEach(t => icon(svg, t[0], 40, t[1]));
line(svg, 120, 30, 120, 51, '#222');

// instrument bar
rect(svg, 0, 55, W, 25, 'url(#blueGrad)');
line(svg, 0, 80, W, 80, '#5f7f90', 1);
icon(svg, 12, 68, 'candles').attr('transform', 'translate(12,68) scale(.85)');
icon(svg, 33, 68, 'chain');
[24, 42, 86, 163, 235].forEach(x => line(svg, x + .5, 55, x + .5, 80, '#5f86ad'));
text(svg, 47, 72, 'UKX', 11, '#111', { bold: true });
text(svg, 92, 72, '5 minutes', 11, '#111', { bold: true });
text(svg, 169, 72, '400 unités', 11, '#111');
[[76, 68], [155, 68], [227, 68]].forEach(t => path(svg, `M${t[0] - 3} ${t[1] - 2} L${t[0] + 3} ${t[1] - 2} L${t[0]} ${t[1] + 2} Z`, '#111'));
rect(svg, 243, 62, 11, 12, '#dde7ef', '#8da');
text(svg, 248.5, 72, 'i', 10, '#557', { anchor: 'middle', bold: true });
text(svg, 262, 72, '7 604,3 (+1,08 % +81,4)', 11, '#1b9a30', { bold: true });
svg.append('circle').attr('cx', 389).attr('cy', 68).attr('r', 4.5).attr('fill', '#3f9a2a');
text(svg, 398, 72, 'FTSE 100 Cash (1€)', 11, '#222');
rect(svg, 1841, 55, 23, 26, '#fff');
path(svg, 'M1846 73 A7 7 0 0 1 1852 60 L1852 64 L1858 60', null, '#e03838', 2.2);
path(svg, 'M1858 63 A7 7 0 0 1 1852 76', null, '#1d9a32', 2.6);
line(svg, 1872, 73, 1882, 73, '#5a7188', 2);
rect(svg, 1887, 62, 11, 11, null, '#5a7188', 0).attr('stroke-width', 1.5);
path(svg, 'M1903 62 L1912 73 M1912 62 L1903 73', null, '#5a7188', 2);

// account strip
rect(svg, 0, 81, W, 47, '#fff');
line(svg, 0, 128, W, 128, '#8aa0aa', 1);
text(svg, 445, 108, 'Gain Jour :', 11, '#222');
text(svg, 504, 108, '19,60 €', 11, '#1b9a30', { bold: true });
text(svg, 987, 108, 'Trades jour :', 11, '#222');
const tradesText = text(svg, 1053, 108, '0', 11, '#1fa52f', { bold: true });
tradesText.append('tspan').attr('fill', '#222').text(' / ');
tradesText.append('tspan').attr('fill', '#222').text('0');
tradesText.append('tspan').attr('fill', '#222').text(' / ');
tradesText.append('tspan').attr('fill', '#b01818').text('0');

// order ticket
line(svg, 1536, 81, 1536, 128, '#8aa0aa');
rect(svg, 1540, 85, 17, 18, '#eef2f4', '#8aa0aa', 2);
path(svg, 'M1544 99 L1551 91 M1549 88 L1553 92', null, '#333', 2);
rect(svg, 1540, 106, 17, 14, '#2f6cc4', null, 2);
line(svg, 1543, 111, 1554, 111, '#fff', 1.2, '2 1');
line(svg, 1543, 114, 1554, 114, '#fff', 1.2, '2 1');
text(svg, 1583, 92, 'Qté', 10.5, '#222', { anchor: 'middle' });
rect(svg, 1561, 96, 45, 21, '#fff', '#aab6bc', 2);
text(svg, 1604, 111, '2', 12, '#222', { anchor: 'end' });
[1610, 1646, 1681, 1838].forEach(x => line(svg, x + .5, 88, x + .5, 122, '#aab6bc'));
text(svg, 1629, 92, 'Limite', 10.5, '#222', { anchor: 'middle' });
text(svg, 1664, 92, 'Stop', 10.5, '#222', { anchor: 'middle' });
[1615, 1650].forEach((x, i) => {
  rect(svg, x, 96, 27, 28, '#e6ecef', '#9aa8b0', 2);
  path(svg, i ? 'M' + (x + 8) + ' 99 l3 4 l-2 0 l0 4 l-2 0 l0 -4 l-2 0 Z' : 'M' + (x + 6) + ' 99 l2 0 l0 4 l2 0 l-3 4 l-3 -4 l2 0 Z', i ? '#1d9a32' : '#d82020');
  path(svg, i ? 'M' + (x + 6) + ' 110 l2 0 l0 4 l2 0 l-3 4 l-3 -4 l2 0 Z' : 'M' + (x + 8) + ' 109 l3 4 l-2 0 l0 4 l-2 0 l0 -4 l-2 0 Z', i ? '#d82020' : '#1d9a32');
  rect(svg, x + 14, 108, 10, 12, '#f4f6f7', '#667');
  line(svg, x + 14, 114, x + 24, 114, '#667');
});
text(svg, 1690, 92, 'Vente O.F.', 10.5, '#222');
text(svg, 1766, 92, 'Achat O.F.', 10.5, '#222');
[1742, 1819].forEach(x => {
  rect(svg, x, 84, 10, 10, '#eef2f4', '#aab6bc');
  text(svg, x + 5, 92.5, 'i', 9, '#667', { anchor: 'middle', bold: true });
});
rect(svg, 1684, 96, 73, 28, 'url(#redBox)', null, 2);
rect(svg, 1761, 96, 73, 28, 'url(#greenBox)', null, 2);
const bid = text(svg, 1688, 118, '7 603,', 20.5, '#fff');
bid.append('tspan').attr('font-size', 9.5).attr('dy', -9).attr('dx', 1).text('8');
const ask = text(svg, 1765, 118, '7 604,', 20.5, '#fff');
ask.append('tspan').attr('font-size', 9.5).attr('dy', -9).attr('dx', 1).text('8');
rect(svg, 1847, 89, 11.5, 11.5, '#fff', '#778', 2);
text(svg, 1864, 99, 'L', 11, '#222');
rect(svg, 1874, 82, 18, 22, '#fff', '#aab6bc', 2);
text(svg, 1883, 97, '10', 10.5, '#888', { anchor: 'middle' });
text(svg, 1894, 98, 'pts', 11, '#222');
rect(svg, 1847, 112, 11.5, 11.5, '#fff', '#778', 2);
text(svg, 1864, 122, 'S', 11, '#222');
rect(svg, 1874, 105, 18, 22, '#fff', '#aab6bc', 2);
text(svg, 1883, 120, '200', 9.5, '#888', { anchor: 'middle' });
text(svg, 1894, 121, 'pts', 11, '#222');

// study tabs
rect(svg, 2, 128, 14, 18, '#e7eef2', '#8ea4ae');
icon(svg, 9, 137, 'down').attr('transform', 'translate(9,137) scale(.55)');
rect(svg, 20, 128, 16, 18, '#e7eef2', '#8ea4ae');
icon(svg, 28, 137, 'up').attr('transform', 'translate(28,137) scale(.55)');
tabLabels.forEach((label, i) => {
  const x0 = tabEdges[i], x1 = tabEdges[i + 1];
  rect(svg, x0, 128, x1 - x0, 18, '#e7eef2', '#8ea4ae');
  if (i === 0) {
    rect(svg, x0 + 2, 132, 5, 10, '#1a90d2');
    rect(svg, x0 + 7, 132, 5, 10, '#f5686c');
  } else if (i === 1) {
    rect(svg, x0 + 4, 132, 10, 10, '#000');
  } else {
    rect(svg, x0 + 4, 132.5, 9, 9, '#eef3f5', '#99a8b0');
  }
  text(svg, x0 + (i === 0 ? 15 : 17), 141, label, 10.5, '#333');
});
rect(svg, .5, 146.5, 167, 16, '#fff', '#8ea4ae');
text(svg, 3, 158, 'Jour :+Haut 7 621,6 +Bas 7 521,3', 10.5, '#222');

// bottom tool bar
rect(svg, 0, 1013, W, 26, '#9bb8c6');
line(svg, 0, 1013, W, 1013, '#7c98a6');
path(svg, 'M10 1032 L14 1020 L24 1018 L22 1032 Z', null, '#6d7f80');
path(svg, 'M14 1033 L16 1027 L25 1017 L28 1019 L19 1030 Z', '#f0c83a', '#555');
path(svg, 'M35 1024 L41 1024 L38 1028 Z', '#111');
line(svg, 30, 1014, 30, 1038, '#7f9aa6');
rect(svg, 46, 1014, 29, 24, '#eef3f5');
path(svg, 'M50 1022 C56 1014 60 1030 70 1026', null, '#d04040', 1.3);
path(svg, 'M50 1027 C56 1032 62 1018 70 1021', null, '#3a9a40', 1.3);
rect(svg, 51, 1032, 4, 4, '#2aa030'); rect(svg, 58, 1031, 4, 5, '#2aa030'); rect(svg, 65, 1030, 4, 6, '#2aa030');
rect(svg, 75, 1014, 15, 24, '#eef3f5');
path(svg, 'M79 1024 L86 1024 L82.5 1028 Z', '#111');
rect(svg, 91, 1014, 66, 24, '#2f8fd8');
path(svg, 'M107 1019 L97 1026 L107 1032', null, '#fff', 1.6);
[[107, 1019], [97, 1026], [107, 1032]].forEach(c => svg.append('circle').attr('cx', c[0]).attr('cy', c[1]).attr('r', 3).attr('fill', '#fff'));
text(svg, 113, 1030, 'Partager', 11, '#fff');
rect(svg, 163, 1017, 12, 15, '#dfe9f2', '#2f6cc4');
rect(svg, 169, 1024, 9, 8, '#2f6cc4', null, 2);
rect(svg, 190, 1018, 12, 16, '#eef3f5', '#333');
path(svg, 'M192 1022 L200 1022 M192 1026 L200 1026 M192 1030 L200 1030', null, '#c03030', 1.5);
rect(svg, 213, 1018, 9, 16, '#3fb04a', '#256'); rect(svg, 220, 1022, 8, 9, '#e05050', '#844');
rect(svg, 237, 1017, 11, 11, '#cfe0f2', '#2456a8'); rect(svg, 243, 1023, 11, 11, '#f2f6fa', '#2456a8');
icon(svg, 270, 1026, 'candles').attr('transform', 'translate(270,1026) scale(.85)');
text(svg, 290, 1030, '«', 13, '#55707e', { anchor: 'middle' });
rect(svg, 300, 1018, 1499, 15, '#9bb8c6', '#7c98a6', 2);
rect(svg, 1108, 1018, 691, 15, 'url(#thumbGrad)', '#7c98a6');
rect(svg, 300, 1018, 14, 15, '#c6dde8', '#7c98a6', 2);
path(svg, 'M309 1022 L305 1025.5 L309 1029 Z', '#111');
rect(svg, 1799, 1018, 14, 15, '#dfeaf0', '#7c98a6', 2);
path(svg, 'M1805 1022 L1809 1025.5 L1805 1029 Z', '#111');
[[1826, '#cfd8dc'], [1853, '#fff'], [1879, '#fff']].forEach(z => {
  svg.append('circle').attr('cx', z[0]).attr('cy', 1023).attr('r', 6).attr('fill', z[1]).attr('stroke', '#111').attr('stroke-width', 1.5);
  line(svg, z[0] + 4, 1028, z[0] + 10, 1034, '#111', 2.4);
});
line(svg, 1850, 1023, 1856, 1023, '#1030b0', 1.6);
path(svg, 'M1876 1023 L1882 1023 M1879 1020 L1879 1026', null, '#1030b0', 1.6);
line(svg, 1838, 1019, 1838, 1030, '#1030b0', 1.5);
line(svg, 1818, 1034, 1826, 1034, '#1030b0', 1.5);
rect(svg, 1898, 1020, 16, 4, '#fff', '#222');
path(svg, 'M1906 1027 L1906 1034', null, '#1a70c8', 2);

// task bar
rect(svg, 0, 1039, W, 39, '#111');
rect(svg, 538, 1039, 44, 39, '#2d2d2d');
[[16, 1052], [24, 1052], [16, 1060], [24, 1060]].forEach(c => rect(svg, c[0], c[1], 7, 7, '#fff'));
path(svg, 'M65 1054 a7 7 0 1 0 14 0 a7 7 0 1 0 -14 0 M67 1060 L61 1068', null, '#fff', 2);
path(svg, 'M112 1050 L124 1050 M112 1066 L124 1066 M112 1054 L122 1054 L122 1062 L112 1062 Z M126 1052 L126 1055 M126 1060 L126 1066', null, '#fff', 1.3);
rect(svg, 159, 1048, 21, 21, '#1a8fd6');
rect(svg, 163, 1066, 13, 4, '#0d5f98');
rect(svg, 208, 1053, 23, 12, '#d8d8d8', null, 2); rect(svg, 212, 1048, 15, 6, '#f4f4f4');
svg.append('circle').attr('cx', 267).attr('cy', 1059).attr('r', 11.5).attr('fill', '#1ed760');
path(svg, 'M260 1055 Q267 1052 275 1056 M261 1059 Q267 1057 274 1060 M262 1063 Q267 1061 273 1064', null, '#111', 1.6);
rect(svg, 307, 1048, 21, 22, '#dfe7f4', '#6a83b0'); rect(svg, 305, 1052, 12, 13, '#2456a8');
text(svg, 311, 1062, 'W', 9, '#fff', { bold: true, anchor: 'middle' });
rect(svg, 356, 1050, 21, 18, '#f2c14a'); rect(svg, 356, 1050, 10, 4, '#d8a12c'); rect(svg, 361, 1062, 11, 6, '#4d8fc4');
rect(svg, 407, 1048, 17, 23, '#7d8a92'); rect(svg, 409, 1050, 13, 5, '#7fd2e8');
path(svg, 'M410 1059 L421 1059 M410 1064 L421 1064', null, '#223', 2, '2 1');
svg.append('ellipse').attr('cx', 463).attr('cy', 1061).attr('rx', 11).attr('ry', 9).attr('fill', '#c9d4dc');
svg.append('circle').attr('cx', 459).attr('cy', 1058).attr('r', 2).attr('fill', '#e05a3a');
svg.append('circle').attr('cx', 465).attr('cy', 1057).attr('r', 2).attr('fill', '#3a9a40');
line(svg, 468, 1059, 474, 1048, '#c89a40', 2.4);
svg.append('circle').attr('cx', 513).attr('cy', 1059).attr('r', 11).attr('fill', '#e04a3a');
path(svg, 'M513 1059 L524 1059 A11 11 0 0 1 504 1066 Z', '#f4c430');
path(svg, 'M513 1059 L504 1066 A11 11 0 0 1 503 1054 Z', '#2fa04a');
svg.append('circle').attr('cx', 513).attr('cy', 1059).attr('r', 5.5).attr('fill', '#4a8df0').attr('stroke', '#fff').attr('stroke-width', 1.6);
rect(svg, 552, 1056, 7, 12, '#f27a7a', '#a33'); line(svg, 555.5, 1052, 555.5, 1072, '#c44');
rect(svg, 563, 1050, 7, 17, '#37d05a', '#283'); line(svg, 566.5, 1047, 566.5, 1072, '#2a3');
text(svg, 1883, 1055, '13:24', 11, '#eee', { anchor: 'middle' });
text(svg, 1884, 1073, '14/09/2023', 11, '#eee', { anchor: 'middle' });
</script>
</body>
</html>
